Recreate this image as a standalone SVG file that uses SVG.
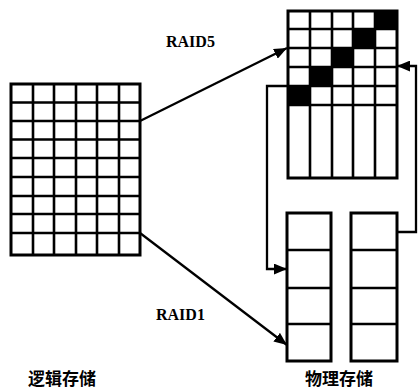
<svg xmlns="http://www.w3.org/2000/svg" width="419" height="391" viewBox="0 0 419 391">
<style>
.g{fill:none;stroke:#000;stroke-width:2.6}
.o{fill:#fff;stroke:#000;stroke-width:3}
.c{fill:none;stroke:#000;stroke-width:2.3}
.blk{fill:#000}
.lbl{font-family:"Liberation Serif",serif;font-weight:bold;font-size:16px;fill:#000}
.cn{font-family:"Noto Sans CJK SC",sans-serif;font-weight:bold;font-size:17px;fill:#000}
</style>
<defs>
<marker id="ah" viewBox="0 0 12 10" refX="12" refY="5" markerWidth="13" markerHeight="11" markerUnits="userSpaceOnUse" orient="auto">
<path d="M0,0 L12,5 L0,10 Z" fill="#000"/>
</marker>
</defs>
<rect width="419" height="391" fill="#fff"/>
<g id="logical">
<rect class="o" x="11" y="84" width="129" height="171"/>
<path class="g" d="M33,84V255M54,84V255M76,84V255M97,84V255M119,84V255M11,102.5H140M11,121H140M11,139.5H140M11,158H140M11,177H140M11,196H140M11,214H140M11,233H140"/>
</g>
<g id="raid5">
<rect class="o" x="288" y="11" width="109" height="167"/>
<rect class="blk" x="375" y="11" width="22" height="18"/>
<rect class="blk" x="353" y="29" width="22" height="19"/>
<rect class="blk" x="332" y="48" width="21" height="19"/>
<rect class="blk" x="310" y="67" width="22" height="19"/>
<rect class="blk" x="288" y="86" width="22" height="19"/>
<path class="g" d="M310,11V178M332,11V178M353,11V178M375,11V178M288,29H397M288,48H397M288,67H397M288,86H397M288,105H397"/>
</g>
<g id="disk1">
<rect class="o" x="287" y="213" width="44" height="148"/>
<path class="g" d="M287,250H331M287,288H331M287,324H331"/>
</g>
<g id="disk2">
<rect class="o" x="351" y="213" width="46" height="148"/>
<path class="g" d="M351,250H397M351,288H397M351,324H397"/>
</g>
<g id="connectors">
<path class="c" d="M140,121L287,48" marker-end="url(#ah)"/>
<path class="c" d="M140,233L287,345" marker-end="url(#ah)"/>
<path class="c" d="M288,86H267V269H287" marker-end="url(#ah)"/>
<path class="c" d="M397,232H416V66H397" marker-end="url(#ah)"/>
</g>
<text class="lbl" x="166" y="47">RAID5</text>
<text class="lbl" x="156" y="320">RAID1</text>
<text class="cn" x="28" y="385">逻辑存储</text>
<text class="cn" x="305" y="385">物理存储</text>
</svg>
